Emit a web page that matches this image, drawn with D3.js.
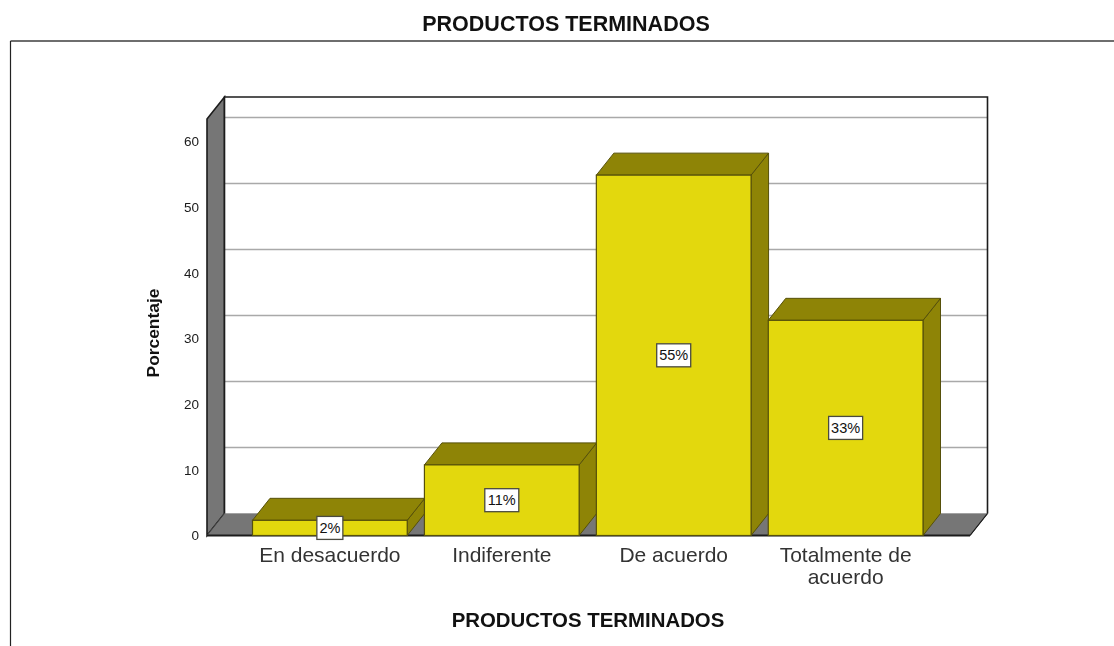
<!DOCTYPE html>
<html><head><meta charset="utf-8">
<script src="https://cdn.jsdelivr.net/npm/d3@7/dist/d3.min.js"></script>
<style>html,body{margin:0;padding:0;background:#fff}svg{display:block;filter:blur(0.35px)}text{font-family:"Liberation Sans",Arial,sans-serif;fill:#111}</style>
</head><body><svg id="c" width="1114" height="646"></svg>
<script>
const categories = ["En desacuerdo","Indiferente","De acuerdo","Totalmente de acuerdo"];
const values = [2.3,10.7,54.6,32.6];
const valueLabels = ["2%","11%","55%","33%"];
const yTicks = [0,10,20,30,40,50,60];
const chartTitle = "PRODUCTOS TERMINADOS";
const xTitle = "PRODUCTOS TERMINADOS";
const yTitle = "Porcentaje";

const svg = d3.select("#c");
const dx = 17.5, dy = -22;
const y = d3.scaleLinear().domain([0,60]).range([535.5,139.5]);
const yLabels = d3.scaleLinear().domain([0,60]).range([535.5,141.5]);
const yTopFront = 119, frontLeft = 207, frontRight = 970;
const x = d3.scaleBand().domain(categories).range([252.5,923]).paddingInner(0.1).paddingOuter(0);
const bw = x.bandwidth();
const line = d3.line();
const yellow="#e3d80d", olive="#8e8406", edge="#56500a", wall="#767676", dark="#1c1c1c";

// outer frame
svg.append("path").attr("d",line([[10.5,41],[1114,41]])).attr("fill","none").attr("stroke","#6e6e6e").attr("stroke-width",2);
svg.append("path").attr("d",line([[10.5,41],[10.5,646]])).attr("fill","none").attr("stroke","#222").attr("stroke-width",1.2);

// walls
svg.append("path").attr("d",line([[frontLeft,yTopFront],[frontLeft+dx,yTopFront+dy],[frontLeft+dx,y(0)+dy],[frontLeft,y(0)]])+"Z").attr("fill",wall).attr("stroke",dark).attr("stroke-width",1.6);
svg.append("path").attr("d",line([[frontLeft,y(0)],[frontLeft+dx,y(0)+dy],[frontRight+dx,y(0)+dy],[frontRight,y(0)]])+"Z").attr("fill",wall).attr("stroke","#444").attr("stroke-width",1);
svg.append("rect").attr("x",frontLeft+dx).attr("y",yTopFront+dy).attr("width",frontRight-frontLeft).attr("height",y(0)-yTopFront).attr("fill","#fff");

// gridlines on back wall
svg.append("g").selectAll("line").data(yTicks.slice(1)).join("line")
 .attr("x1",frontLeft+dx).attr("x2",frontRight+dx)
 .attr("y1",d=>y(d)+dy).attr("y2",d=>y(d)+dy)
 .attr("stroke","#a9a9a9").attr("stroke-width",1.6);

// back wall outline
svg.append("path").attr("d",line([[frontLeft+dx,y(0)+dy],[frontLeft+dx,yTopFront+dy],[frontRight+dx,yTopFront+dy],[frontRight+dx,y(0)+dy]])).attr("fill","none").attr("stroke",dark).attr("stroke-width",1.6);
svg.append("path").attr("d",line([[frontRight+dx,y(0)+dy],[frontRight,y(0)]])).attr("fill","none").attr("stroke",dark).attr("stroke-width",1.2);
svg.append("path").attr("d",line([[frontLeft,y(0)],[frontRight,y(0)]])).attr("fill","none").attr("stroke",dark).attr("stroke-width",1.8);

// bars
const bars = svg.append("g").selectAll("g").data(categories).join("g");
bars.each(function(c,i){
  const g=d3.select(this), x0=x(c), x1=x0+bw, t=y(values[i]), b=y(0);
  g.append("path").attr("d",line([[x1,t],[x1+dx,t+dy],[x1+dx,b+dy],[x1,b]])+"Z").attr("fill",olive).attr("stroke",edge).attr("stroke-width",1);
  g.append("path").attr("d",line([[x0,t],[x0+dx,t+dy],[x1+dx,t+dy],[x1,t]])+"Z").attr("fill",olive).attr("stroke",edge).attr("stroke-width",1);
  g.append("rect").attr("x",x0).attr("y",t).attr("width",bw).attr("height",b-t).attr("fill",yellow).attr("stroke",edge).attr("stroke-width",1.2);
});
// value labels
const lab = svg.append("g").selectAll("g").data(categories).join("g")
 .attr("transform",(c,i)=>`translate(${x(c)+bw/2},${(y(values[i])+y(0))/2})`);
lab.append("rect").attr("x",(c,i)=>i==0?-13:-17).attr("y",-11.5).attr("width",(c,i)=>i==0?26:34).attr("height",23)
 .attr("fill","#fff").attr("stroke","#4a4a40").attr("stroke-width",1.3);
lab.append("text").attr("text-anchor","middle").attr("dy",5).attr("font-size",14.5).text((c,i)=>valueLabels[i]);

// y axis labels
const yAxis = svg.append("g").attr("transform",`translate(${frontLeft},0)`).call(d3.axisLeft(yLabels).tickValues(yTicks).tickSize(0).tickPadding(8));
yAxis.select(".domain").remove();
yAxis.selectAll("text").attr("font-size",13.5).style("font-family",'"Liberation Sans",Arial,sans-serif').style("fill","#1a1a1a");

// x axis labels
const xLab = svg.append("g").selectAll("text").data(categories).join("text")
 .attr("text-anchor","middle").attr("font-size",21).style("fill","#333");
xLab.each(function(c){
  const t=d3.select(this), cx=x(c)+bw/2;
  const parts = c==="Totalmente de acuerdo" ? ["Totalmente de","acuerdo"] : [c];
  parts.forEach((p,k)=>t.append("tspan").attr("x",cx).attr("y",562+k*22).text(p));
});

// titles
svg.append("text").attr("x",566).attr("y",31).attr("text-anchor","middle").attr("font-size",21.5).attr("font-weight","bold").text(chartTitle);
svg.append("text").attr("x",588).attr("y",627).attr("text-anchor","middle").attr("font-size",20.4).attr("font-weight","bold").text(xTitle);
svg.append("text").attr("transform","translate(159,333) rotate(-90)").attr("text-anchor","middle").attr("font-size",17.4).attr("font-weight","bold").text(yTitle);
</script></body></html>
